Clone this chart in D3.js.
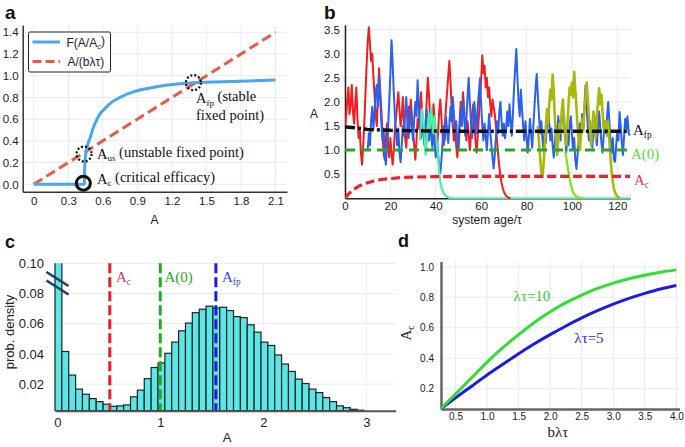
<!DOCTYPE html>
<html><head><meta charset="utf-8">
<script src="https://cdn.jsdelivr.net/npm/d3@7"></script>
<style>
body{margin:0;background:#fff}
svg{display:block}
</style>
</head><body>
<svg id="chart" width="685" height="447"></svg>
<script>
// ---------------- DATA ----------------
// Panel a
const aCurveA = [0, 0.44, 0.442, 0.446, 0.455, 0.47, 0.49, 0.52, 0.55, 0.58, 0.62, 0.67, 0.75, 0.87, 1.0, 1.16, 1.39, 1.79, 2.1];
const aCurveF = [0, 0, 0.12, 0.22, 0.30, 0.37, 0.43, 0.53, 0.60, 0.655, 0.70, 0.75, 0.80, 0.853, 0.885, 0.914, 0.936, 0.948, 0.96];
const aLineA = [0, 2.1];
const aLineV = [0, 1.4];
const aTicksX = [0, 0.3, 0.6, 0.9, 1.2, 1.5, 1.8, 2.1];
const aTicksY = [0, 0.2, 0.4, 0.6, 0.8, 1.0, 1.2, 1.4];
const aFixedA = [1.387, 0.437];      // A_fp, A_us
const aFixedV = [0.936, 0.279];
const aCritA = 0.431, aCritV = 0.01;

// Panel b
const bTicksX = [0, 20, 40, 60, 80, 100, 120];
const bTicksY = [0.5, 1.0, 1.5, 2.0, 2.5, 3.0, 3.5];
const bStep = 0.5;
const redStart = 0;
const redVals = [
 1.45,1.7,2.05,2.3,1.75,1.95,2.35,1.8,1.55,1.95,
 2.3,1.65,1.25,1.45,0.95,0.7,1.05,1.55,2.15,2.75,
 3.25,3.55,3.2,2.85,3.0,2.55,2.15,1.75,1.5,2.05,
 2.7,2.25,1.85,1.35,0.95,0.8,1.2,1.55,1.1,0.85,
 1.25,0.95,0.7,1.0,1.45,1.7,1.95,2.2,1.85,1.5,
 1.7,2.1,1.6,1.25,1.05,1.45,1.9,1.6,2.05,1.7,
 1.35,1.1,0.8,1.2,1.65,1.45,1.9,2.2,1.75,1.4,
 1.15,1.55,2.0,2.5,2.15,1.7,1.3,1.55,1.95,1.6,
 1.3,1.0,1.35,1.8,2.05,1.65,1.3,1.1,1.5,1.9,
 2.2,2.55,2.85,2.4,1.9,1.5,1.2,1.45,1.1,0.85,
 1.15,1.6,2.0,1.7,2.2,1.85,1.45,1.2,1.6,1.35,
 1.0,1.3,1.75,1.95,1.55,1.2,0.95,1.3,1.7,2.1,
 2.45,2.97,2.6,2.75,2.3,2.5,2.1,2.3,1.95,1.7,
 2.05,1.9,1.75,1.5,1.2,0.9,0.65,0.45,0.32,0.22,
 0.14,0.09,0.05,0.03,0.015,0.005,0
];
const blueStart = 10;
const blueVals = [
 1.0,1.35,1.1,1.6,1.9,1.45,1.75,2.2,2.35,1.9,
 2.55,2.1,1.6,1.2,1.45,0.95,0.7,1.05,1.5,2.0,
 2.6,3.28,2.8,2.2,1.7,1.35,1.1,1.45,0.95,0.75,
 1.1,1.5,1.3,1.75,2.1,1.6,1.25,1.55,1.9,1.45,
 1.2,1.65,2.0,1.7,2.45,1.9,1.5,1.25,1.7,1.4,
 1.1,1.5,1.85,1.45,1.2,1.6,1.3,1.05,1.4,1.15,
 0.85,1.2,0.95,0.65,0.52,0.8,1.15,1.5,1.2,1.7,
 1.4,1.15,1.55,1.9,1.6,2.1,1.75,1.35,1.6,1.2,
 1.0,1.4,1.85,1.5,2.05,1.7,1.3,1.65,2.1,2.5,
 2.0,1.6,1.25,1.55,2.0,1.7,1.35,1.9,2.2,2.49,
 1.95,1.5,1.2,1.55,1.3,1.0,1.35,1.75,1.4,1.1,
 0.85,0.62,0.9,1.25,1.6,1.35,1.8,2.0,1.6,1.3,
 1.55,1.25,1.45,1.8,1.5,1.95,1.6,1.3,1.75,2.3,
 2.7,3.1,2.5,2.0,1.7,2.25,1.85,1.5,1.2,1.6,
 1.3,0.95,1.25,1.65,1.35,1.05,1.5,1.9,2.3,2.58,
 2.1,1.7,1.35,1.6,1.25,1.0,1.4,1.15,1.5,1.85,
 1.55,1.2,1.45,1.1,0.85,1.15,1.5,1.3,1.7,1.45,
 1.2,1.65,1.93,1.55,1.25,0.95,1.3,1.1,1.5,1.7,
 1.35,1.0,1.25,0.8,0.61,0.9,1.2,1.55,1.3,1.75,
 1.45,1.9,2.34,1.85,1.5,1.2,1.6,1.35,1.05,1.4,
 1.7,1.35,1.1,1.5,1.8,1.45,1.15,0.95,1.3,1.6,
 1.35,1.7,2.0,1.6,1.2,0.95,1.25,0.8,0.76,1.1,
 1.4,1.2,1.79,1.5,1.15,0.9,1.3,1.65,1.45,1.7,
 1.35,1.3
];
const aquaStart = 33;
const aquaVals = [
 1.2,1.5,1.85,1.6,1.3,0.9,1.15,1.5,1.75,1.45,
 1.86,1.6,1.35,1.7,1.4,1.1,0.9,0.55,0.35,0.22,
 0.15,0.1,0.07,0.05,0.03,0.02,0.01,0.005,0
];
const oliveStart = 85;
const oliveVals = [
 1.5,1.15,0.85,0.55,0.44,0.7,1.05,1.45,1.85,1.55,
 1.95,2.25,2.05,2.57,2.2,1.65,1.25,0.9,1.2,1.55,
 1.35,1.8,2.05,1.7,1.35,1.1,1.5,1.95,2.3,2.15,
 2.4,2.1,2.62,2.25,1.9,1.5,1.2,1.0,1.3,1.65,
 1.4,1.85,2.1,2.4,2.05,1.7,1.35,1.1,1.45,1.8,
 1.5,1.25,1.7,2.0,2.28,1.95,2.15,1.8,1.45,1.6,
 1.6,1.3,1.58,1.2,0.85,0.55,0.35,0.2,0.12,0.07,
 0.04,0.02,0
];
const limeStart = 97;
const limeVals = [0.98,0.85,0.7,0.55,0.4,0.28,0.2,0.13,0.09,0.06,0.04,0.025,0.015,0.01,0.005,0.002,0];
const acCurveT = [0, 1, 2, 4, 6, 9, 12, 16, 20, 25, 30, 40, 60, 80, 100, 125.6];
const acCurveV = [0, 0.06, 0.11, 0.19, 0.25, 0.31, 0.35, 0.39, 0.41, 0.43, 0.44, 0.45, 0.455, 0.455, 0.455, 0.455];
const afpCurveT = [0, 5, 10, 20, 40, 80, 125.6];
const afpCurveV = [1.48, 1.46, 1.43, 1.41, 1.395, 1.39, 1.39];
const a0Value = 1.0;

// Panel c
const cBinStart = -0.022;
const cBinWidth = 1 / 15;
const cHist = [0.12, 0.0416, 0.026, 0.0167, 0.0133, 0.0104, 0.0084, 0.0067, 0.0053, 0.0056,
 0.0062, 0.0116, 0.016, 0.0236, 0.031, 0.034, 0.0404, 0.0478, 0.0553, 0.0604,
 0.0673, 0.0696, 0.0716, 0.0704, 0.0709, 0.0687, 0.0647, 0.064, 0.0593, 0.0544,
 0.0478, 0.0456, 0.0393, 0.0333, 0.0284, 0.0233, 0.0204, 0.0167, 0.0144, 0.0111,
 0.0084, 0.0056, 0.0044, 0.0033, 0.0027];
const cTicksX = [0, 1, 2, 3];
const cTicksY = [0.02, 0.04, 0.06, 0.08, 0.10];
const cAc = 0.51, cA0 = 1.0, cAfp = 1.54;

// Panel d
const dB = [0.27, 0.5, 0.75, 1.0, 1.25, 1.5, 1.75, 2.0, 2.25, 2.5, 2.75, 3.0, 3.25, 3.5, 3.75, 4.0];
const dGreen = [0.07, 0.165, 0.27, 0.375, 0.47, 0.555, 0.635, 0.705, 0.765, 0.815, 0.858, 0.893, 0.922, 0.945, 0.965, 0.98];
const dBlue = [0.07, 0.14, 0.215, 0.29, 0.36, 0.43, 0.495, 0.555, 0.612, 0.665, 0.712, 0.755, 0.793, 0.826, 0.855, 0.878];
const dTicksX = [0.5, 1.0, 1.5, 2.0, 2.5, 3.0, 3.5, 4.0];
const dTicksY = [0.2, 0.4, 0.6, 0.8, 1.0];

// ---------------- HELPERS ----------------
const SANS = '"Liberation Sans",Arial,Helvetica,sans-serif';
const SERIF = '"Liberation Serif","Times New Roman",Times,serif';
const svg = d3.select("#chart").attr("font-family", SANS);
const GRID = "#e8ecec";

function series(start, step, vals) { return vals.map((v, i) => [start + i * step, v]); }

function grid(g, x, y, xt, yt) {
  const [y0, y1] = y.range(), [x0, x1] = x.range();
  g.append("g").selectAll("line").data(xt).join("line")
    .attr("x1", d => x(d)).attr("x2", d => x(d)).attr("y1", y0).attr("y2", y1)
    .attr("stroke", GRID).attr("stroke-width", 1);
  g.append("g").selectAll("line").data(yt).join("line")
    .attr("y1", d => y(d)).attr("y2", d => y(d)).attr("x1", x0).attr("x2", x1)
    .attr("stroke", GRID).attr("stroke-width", 1);
}

function axes(g, x, y, o) {
  const bx = g.append("g").attr("transform", `translate(0,${y.range()[0]})`)
    .call(d3.axisBottom(x).tickValues(o.xt).tickFormat(o.xf).tickSize(0).tickPadding(o.xp));
  bx.select(".domain").attr("stroke", o.axc).attr("stroke-width", o.axw);
  bx.selectAll("text").attr("font-size", o.fs).attr("fill", "#222").attr("font-family", SANS);
  bx.attr("font-family", SANS);
  const ly = g.append("g").attr("transform", `translate(${x.range()[0]},0)`)
    .call(d3.axisLeft(y).tickValues(o.yt).tickFormat(o.yf).tickSize(0).tickPadding(o.yp));
  if (o.noLeft) ly.select(".domain").remove();
  else ly.select(".domain").attr("stroke", o.axc).attr("stroke-width", o.axw);
  ly.selectAll("text").attr("font-size", o.fs).attr("fill", "#222").attr("font-family", SANS);
  ly.attr("font-family", SANS);
}

function richText(g, x, y, parts, attrs) {
  const t = g.append("text").attr("x", x).attr("y", y);
  Object.entries(attrs || {}).forEach(([k, v]) => t.attr(k, v));
  let shifted = false;
  parts.forEach(p => {
    const s = t.append("tspan").text(p.t);
    if (p.sub && !shifted) { s.attr("dy", "0.3em").attr("font-size", "0.62em"); shifted = true; }
    else if (!p.sub && shifted) { s.attr("dy", "-0.3em"); shifted = false; }
  });
  return t;
}

function panelLabel(x, y, s, fs) {
  svg.append("text").attr("x", x).attr("y", y).text(s)
    .attr("font-weight", "bold").attr("font-size", fs).attr("fill", "#111").attr("font-family", SANS);
}

// ---------------- PANEL A ----------------
{
  const g = svg.append("g");
  const x = d3.scaleLinear([-0.096, 2.2], [22.7, 287]);
  const y = d3.scaleLinear([-0.068, 1.467], [191.7, 25]);
  grid(g, x, y, aTicksX, aTicksY);
  axes(g, x, y, { xt: aTicksX, yt: aTicksY, xf: d => d === 0 ? "0" : d3.format(".1f")(d),
    yf: d3.format(".1f"), xp: 5, yp: 4, fs: 11.5, axc: "#333", axw: 1.5 });

  const line = d3.line().x(d => x(d[0])).y(d => y(d[1]));
  g.append("path").datum(aLineA.map((a, i) => [a, aLineV[i]]))
    .attr("d", line).attr("fill", "none").attr("stroke", "#ee5744").attr("stroke-width", 3)
    .attr("stroke-dasharray", "10,5");
  g.append("path").datum(aCurveA.map((a, i) => [a, aCurveF[i]]))
    .attr("d", line.curve(d3.curveMonotoneX)).attr("fill", "none").attr("stroke", "#4aa6ee").attr("stroke-width", 3);

  g.selectAll("circle.fp").data(aFixedA.map((a, i) => [a, aFixedV[i]])).join("circle")
    .attr("cx", d => x(d[0])).attr("cy", d => y(d[1])).attr("r", 7.5)
    .attr("fill", "none").attr("stroke", "#111").attr("stroke-width", 2.2).attr("stroke-dasharray", "2,2");
  g.append("circle").attr("cx", x(aCritA)).attr("cy", y(aCritV)).attr("r", 7)
    .attr("fill", "none").attr("stroke", "#111").attr("stroke-width", 3);

  const ta = { "font-family": SERIF, "font-size": 14.5, fill: "#111" };
  richText(g, 196, 103, [{ t: "A" }, { t: "fp", sub: true }, { t: " (stable" }], ta);
  richText(g, 196, 120, [{ t: "fixed point)" }], ta);
  richText(g, 97, 158.5, [{ t: "A" }, { t: "us", sub: true }, { t: " (unstable fixed point)" }], ta);
  richText(g, 97, 183.5, [{ t: "A" }, { t: "c", sub: true }, { t: " (critical efficacy)" }], ta);

  // legend
  const lg = g.append("g");
  lg.append("rect").attr("x", 28.5).attr("y", 32).attr("width", 82).attr("height", 40).attr("rx", 1.5)
    .attr("fill", "#fff").attr("stroke", "#222").attr("stroke-width", 1);
  lg.append("line").attr("x1", 32.5).attr("x2", 60).attr("y1", 42).attr("y2", 42)
    .attr("stroke", "#4aa6ee").attr("stroke-width", 3);
  lg.append("line").attr("x1", 32.5).attr("x2", 60).attr("y1", 61.5).attr("y2", 61.5)
    .attr("stroke", "#ee5744").attr("stroke-width", 3).attr("stroke-dasharray", "9,4");
  const tl = { "font-family": SANS, "font-size": 12, fill: "#222" };
  richText(lg, 66.5, 46.5, [{ t: "F(A/A" }, { t: "c", sub: true }, { t: ")" }], tl);
  richText(lg, 67.5, 66, [{ t: "A/(bλτ)" }], tl);

  g.append("text").attr("x", x(1.05)).attr("y", 224).attr("text-anchor", "middle")
    .attr("font-size", 12).attr("fill", "#222").text("A");
  panelLabel(5, 19, "a", 19);
}

// ---------------- PANEL B ----------------
{
  const g = svg.append("g");
  const x = d3.scaleLinear([0, 125.6], [345, 630]);
  const y = d3.scaleLinear([0, 3.6], [198.3, 24.8]);
  grid(g, x, y, bTicksX, bTicksY);
  axes(g, x, y, { xt: bTicksX, yt: bTicksY, xf: d3.format("d"), yf: d3.format(".1f"),
    xp: 3.5, yp: 5, fs: 11.5, axc: "#222", axw: 1.5 });
  g.append("clipPath").attr("id", "clipb").append("rect")
    .attr("x", 345).attr("y", 22).attr("width", 286).attr("height", 177);
  const pg = g.append("g").attr("clip-path", "url(#clipb)");
  const line = d3.line().x(d => x(d[0])).y(d => y(d[1]));
  const draw = (data, col, w, dash) => {
    const p = pg.append("path").datum(data).attr("d", line).attr("fill", "none")
      .attr("stroke", col).attr("stroke-width", w).attr("stroke-linejoin", "round");
    if (dash) p.attr("stroke-dasharray", dash);
    return p;
  };
  const aqua = series(aquaStart, bStep, aquaVals);
  const aquaEnd = aqua[aqua.length - 1][0];
  draw([[aquaEnd, 0], [x.domain()[1], 0]], "#4cf0a6", 2.2);
  draw(series(redStart, bStep, redVals), "#f01e1e", 2);
  draw(series(blueStart, bStep, blueVals), "#2b5ff0", 2);
  draw(aqua, "#4cf0a6", 2.2);
  draw(series(oliveStart, bStep, oliveVals), "#a9b80a", 2.6);
  draw(series(limeStart, bStep, limeVals), "#77e61a", 2.2);
  draw(afpCurveT.map((t, i) => [t, afpCurveV[i]]), "#111", 3.5, "10,3,3,3");
  draw(x.domain().map(t => [t, a0Value]), "#2aa52a", 3, "10,6");
  draw(acCurveT.map((t, i) => [t, acCurveV[i]]), "#f01e2e", 3.2, "9,4");

  const ts = { "font-family": SERIF, "font-size": 15 };
  richText(g, 633, 135, [{ t: "A" }, { t: "fp", sub: true }], Object.assign({ fill: "#111" }, ts));
  richText(g, 631, 159, [{ t: "A(0)" }], Object.assign({ fill: "#55dd33" }, ts));
  richText(g, 634, 185, [{ t: "A" }, { t: "c", sub: true }], Object.assign({ fill: "#e0305a" }, ts));

  g.append("text").attr("x", 487).attr("y", 224).attr("text-anchor", "middle")
    .attr("font-size", 12).attr("fill", "#222").text("system age/τ");
  g.append("text").attr("x", 314).attr("y", 118).attr("text-anchor", "middle")
    .attr("font-size", 12).attr("fill", "#222").text("A");
  panelLabel(324, 19, "b", 19);
}

// ---------------- PANEL C ----------------
{
  const g = svg.append("g");
  const x = d3.scaleLinear([-0.022, 3.286], [55, 395.7]);
  const y = d3.scaleLinear([0.0024, 0.10], [410.7, 263.3]);
  grid(g, x, y, cTicksX, cTicksY);
  g.append("clipPath").attr("id", "clipc").append("rect")
    .attr("x", 50).attr("y", 263.3).attr("width", 350).attr("height", 148);
  const bars = g.append("g").attr("clip-path", "url(#clipc)");
  bars.selectAll("rect").data(cHist).join("rect")
    .attr("x", (d, i) => x(cBinStart + i * cBinWidth))
    .attr("width", (d, i) => x(cBinStart + (i + 1) * cBinWidth) - x(cBinStart + i * cBinWidth))
    .attr("y", d => y(d)).attr("height", d => y.range()[0] - y(d))
    .attr("fill", "#5ce6e6").attr("stroke", "#222").attr("stroke-width", 1.2);
  axes(g, x, y, { xt: cTicksX, yt: cTicksY, xf: d3.format("d"), yf: d3.format(".2f"),
    xp: 7, yp: 11, fs: 13, axc: "#555", axw: 2, noLeft: true });

  const vl = [[cAc, "#ee1c24"], [cA0, "#22aa22"], [cAfp, "#1a1aee"]];
  g.selectAll("line.v").data(vl).join("line")
    .attr("x1", d => x(d[0])).attr("x2", d => x(d[0])).attr("y1", 263.3).attr("y2", 410)
    .attr("stroke", d => d[1]).attr("stroke-width", 3).attr("stroke-dasharray", "10,4");

  // axis-break marks
  g.append("line").attr("x1", 46.5).attr("y1", 272).attr("x2", 68.5).attr("y2", 286)
    .attr("stroke", "#1c3f70").attr("stroke-width", 2.6);
  g.append("line").attr("x1", 46.5).attr("y1", 280.5).attr("x2", 68.5).attr("y2", 294.5)
    .attr("stroke", "#1c3f70").attr("stroke-width", 2.6);

  const ts = { "font-family": SERIF, "font-size": 15 };
  richText(g, 116, 282, [{ t: "A" }, { t: "c", sub: true }], Object.assign({ fill: "#e0305a" }, ts));
  richText(g, 164.5, 282, [{ t: "A(0)" }], Object.assign({ fill: "#22aa22" }, ts));
  richText(g, 222, 282, [{ t: "A" }, { t: "fp", sub: true }], Object.assign({ fill: "#3344ee" }, ts));

  g.append("text").attr("x", 227).attr("y", 442).attr("text-anchor", "middle")
    .attr("font-size", 13).attr("fill", "#222").text("A");
  g.append("text").attr("transform", "translate(14,332) rotate(-90)").attr("text-anchor", "middle")
    .attr("font-size", 13).attr("fill", "#222").text("prob. density");
  panelLabel(5, 247.5, "c", 18);
}

// ---------------- PANEL D ----------------
{
  const g = svg.append("g");
  const x = d3.scaleLinear([0.27, 4.05], [441, 679.5]);
  const y = d3.scaleLinear([0.067, 1.035], [409, 261.5]);
  grid(g, x, y, dTicksX, dTicksY);
  axes(g, x, y, { xt: dTicksX, yt: dTicksY, xf: d3.format(".1f"), yf: d3.format(".1f"),
    xp: 4, yp: 7, fs: 10, axc: "#666", axw: 2.5 });
  const line = d3.line().x(d => x(d[0])).y(d => y(d[1])).curve(d3.curveMonotoneX);
  g.append("path").datum(dB.map((b, i) => [b, dBlue[i]])).attr("d", line)
    .attr("fill", "none").attr("stroke", "#1a1aee").attr("stroke-width", 3);
  g.append("path").datum(dB.map((b, i) => [b, dGreen[i]])).attr("d", line)
    .attr("fill", "none").attr("stroke", "#33dd33").attr("stroke-width", 3);
  const ts = { "font-family": SERIF, "font-size": 15 };
  richText(g, 532, 301, [{ t: "λτ=10" }], Object.assign({ fill: "#33cc33", "text-anchor": "middle" }, ts));
  richText(g, 589, 343, [{ t: "λτ=5" }], Object.assign({ fill: "#2a2aee", "text-anchor": "middle" }, ts));
  g.append("text").attr("x", 558).attr("y", 437).attr("text-anchor", "middle")
    .attr("font-family", SERIF).attr("font-size", 15).attr("fill", "#222").text("bλτ");
  richText(g, 0, 0, [{ t: "A" }, { t: "c", sub: true }],
    { "font-family": SERIF, "font-size": 15, fill: "#222", transform: "translate(411,333) rotate(-90)", "text-anchor": "middle" });
  panelLabel(398, 247, "d", 18);
}
</script>
</body></html>
